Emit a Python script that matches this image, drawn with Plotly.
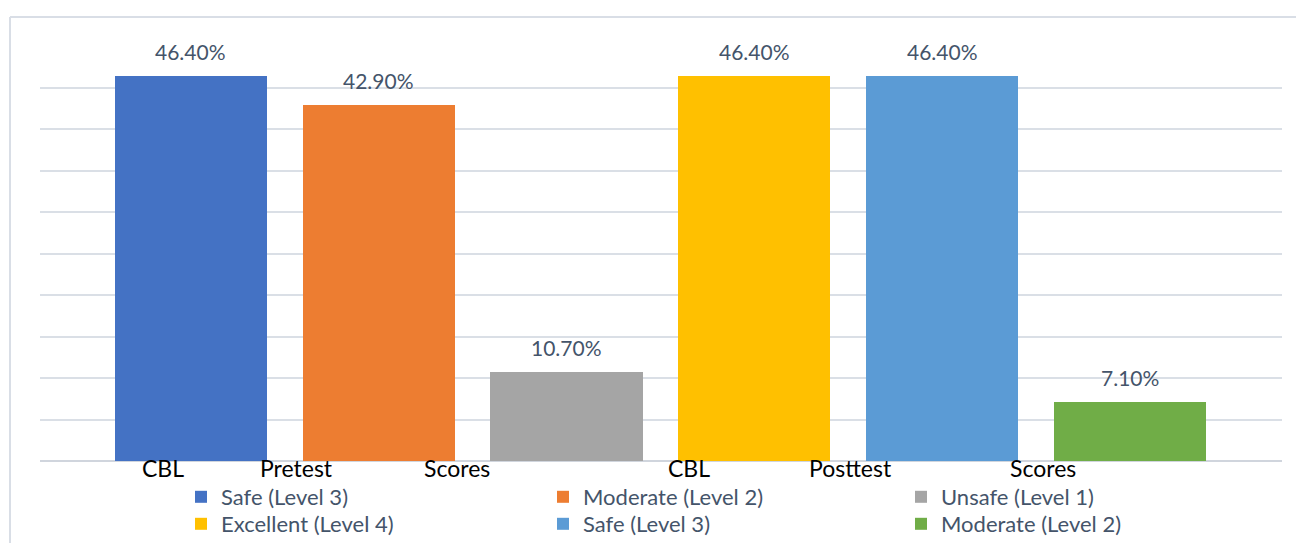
import plotly.graph_objects as go

# ---- data ----
levels = ["Safe (Level 3)", "Moderate (Level 2)", "Unsafe (Level 1)",
          "Excellent (Level 4)", "Safe (Level 3)", "Moderate (Level 2)"]
values = [46.4, 42.9, 10.7, 46.4, 46.4, 7.1]
value_labels = ["46.40%", "42.90%", "10.70%", "46.40%", "46.40%", "7.10%"]
group_words = ["CBL", "Pretest", "Scores", "CBL", "Posttest", "Scores"]

colors = ["#4472C4", "#ED7D31", "#A5A5A5", "#FFC000", "#5B9BD5", "#70AD47"]

W, H = 1296, 543
L, R, T, B = 40, 14, 46, 82
pw = W - L - R
ph = H - T - B

def px2x(px):
    return (px - L) / pw

def py2y(py):
    return (H - B - py) / ph

FONT = "Lato"

fig = go.Figure()
for i, (lv, v, c) in enumerate(zip(levels, values, colors)):
    lid = "legend" if i == 0 else f"legend{i + 1}"
    fig.add_trace(go.Bar(
        x=[i], y=[v], name=lv, marker=dict(color=c, line=dict(width=0)),
        width=0.81, legend=lid, showlegend=True,
        hoverinfo="skip",
    ))
    fig.add_annotation(x=i, y=v, text=value_labels[i], showarrow=False,
                       xref="x", yref="y", yanchor="bottom", yshift=10,
                       font=dict(family=FONT, size=21, color="#44546A"))

# category words under axis (placed like the original's justified label)
word_pos = [-0.15, 0.565, 1.417, 2.65, 3.51, 4.537]
for w, xp in zip(group_words, word_pos):
    fig.add_annotation(x=xp, y=0, xref="x", yref="paper", text=w,
                       showarrow=False, yanchor="top", yshift=9,
                       font=dict(family=FONT, size=23, color="#000000"))

# outer chart border (top + left)
bx, by = px2x(10), py2y(17)
fig.add_shape(type="line", xref="paper", yref="paper", x0=bx, y0=by, x1=px2x(1300), y1=by,
              line=dict(color="#D9DEE6", width=2))
fig.add_shape(type="line", xref="paper", yref="paper", x0=bx, y0=by, x1=bx, y1=py2y(545),
              line=dict(color="#D9DEE6", width=2))

leg_common = dict(orientation="v", yanchor="top", xanchor="left",
                  font=dict(family=FONT, size=22, color="#44546A"),
                  bgcolor="rgba(0,0,0,0)",
                  itemclick=False, itemdoubleclick=False)
col_x = [181, 543, 901]
row_y = [476, 503]
legends = {}
for i in range(6):
    lid = "legend" if i == 0 else f"legend{i + 1}"
    legends[lid] = dict(x=px2x(col_x[i % 3]), y=py2y(row_y[i // 3]), **leg_common)

fig.update_layout(
    width=W, height=H,
    margin=dict(l=L, r=R, t=T, b=B, autoexpand=False),
    paper_bgcolor="white", plot_bgcolor="white",
    bargap=0,
    xaxis=dict(range=[-0.803, 5.809], showticklabels=False, showgrid=False,
               zeroline=False, showline=False, ticks=""),
    yaxis=dict(range=[0, 50], dtick=5, showticklabels=False, showgrid=True,
               gridcolor="#DADFE6", gridwidth=1.5, zeroline=True,
               zerolinecolor="#D0D5DD", zerolinewidth=2, showline=False, ticks=""),
    showlegend=True,
    **legends,
)

fig.write_html("out.html")
